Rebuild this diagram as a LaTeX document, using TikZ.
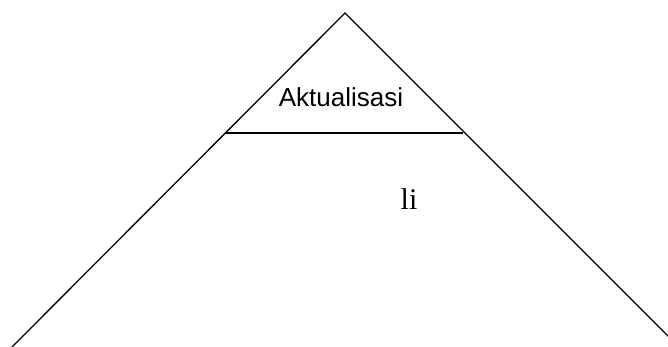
\documentclass[tikz,border=0pt]{standalone}
\usepackage{fontspec}
\setmainfont{Liberation Serif}
\newfontfamily\labelsans{Liberation Sans}
\begin{document}
\begin{tikzpicture}[x=1pt,y=-1pt,
  edge/.style={line width=1.3pt,black},
  sanslabel/.style={font=\labelsans\fontsize{26}{29}\selectfont,inner sep=0pt,anchor=base},
  seriflabel/.style={font=\fontsize{30}{33}\selectfont,inner sep=0pt,anchor=base}]
\useasboundingbox (0,0) rectangle (668,346);
\coordinate (apex) at (345,13);
\coordinate (bl) at (12,347);
\coordinate (br) at (669,337);
\coordinate (hl) at (225,133);
\coordinate (hr) at (463,133);
\draw[edge] (bl) -- (apex) -- (br);
\draw[edge] (hl) -- (hr);
\node[sanslabel] (akt) at (341,106) {Aktualisasi};
\node[seriflabel] (li) at (409,209) {li};
\end{tikzpicture}
\end{document}
